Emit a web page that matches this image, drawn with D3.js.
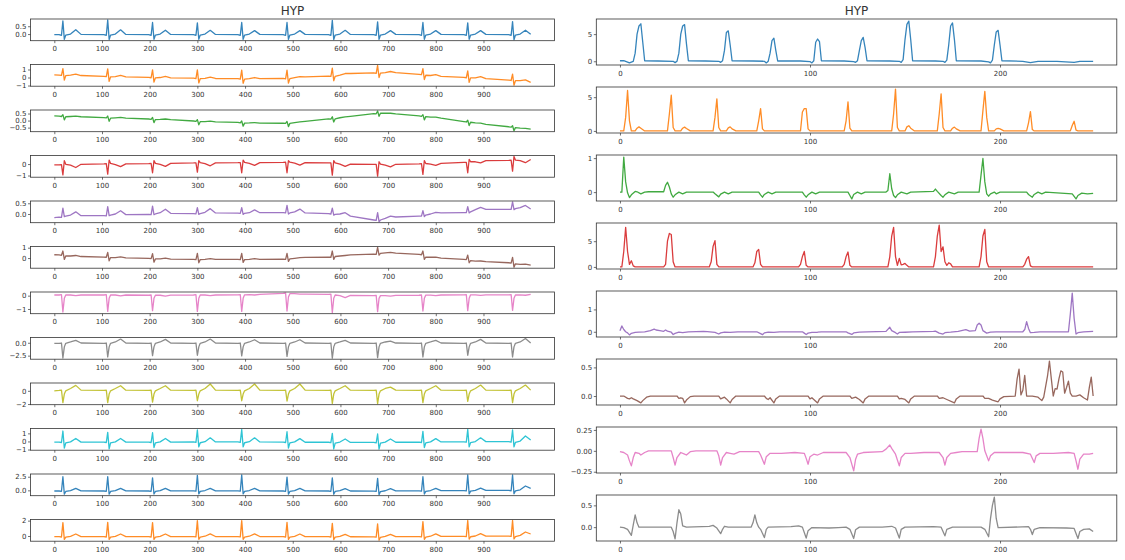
<!DOCTYPE html>
<html><head><meta charset="utf-8">
<script src="https://cdn.jsdelivr.net/npm/d3@7"></script>
<style>body{margin:0;background:#fff}svg{display:block}</style></head><body>
<svg id="c" width="1125" height="560"></svg>
<script>
// ---------------- DATA ----------------
const titleText = "HYP";
const colors = ["#1f77b4","#ff7f0e","#2ca02c","#d62728","#9467bd","#8c564b","#e377c2","#7f7f7f","#bcbd22","#17becf","#1f77b4","#ff7f0e"];

// left column: sample index of key points (shared by all 12 leads)
const leftX = [0,
10,15,18,21,24,34,45,56,
104,109,112,115,118,128,139,150,
198,203,206,209,212,222,233,244,
292,297,300,303,306,316,327,338,
385,390,393,396,399,409,420,431,
480,485,488,491,494,504,515,526,
575,580,583,586,589,599,610,621,
670,675,678,681,684,694,705,716,
765,770,773,776,779,789,800,811,
859,864,867,870,873,883,894,905,
953,958,961,964,967,977,988,999];
const leftXTicks = [0,100,200,300,400,500,600,700,800,900];

const lead01 = [-.04,
-.03,-.08,.84,-.34,-.06,0,.28,-.02,
-.03,-.08,.9,-.35,-.06,0,.27,-.02,
-.03,-.08,.74,-.33,-.06,0,.25,-.02,
-.03,-.08,.72,-.33,-.06,0,.24,-.02,
-.03,-.08,.74,-.34,-.06,0,.22,-.02,
-.03,-.08,.74,-.34,-.06,0,.22,-.02,
-.03,-.08,.88,-.35,-.06,0,.24,-.02,
-.03,-.08,.78,-.34,-.06,0,.22,-.02,
-.03,-.08,.74,-.33,-.06,0,.22,-.02,
-.03,-.08,.72,-.33,-.06,0,.22,-.02,
-.03,-.08,.8,-.36,-.06,0,.25,-.01];
const lead02 = [.33,
.3,.26,1.1,-.32,.24,.3,.42,.25,
.14,.1,1.08,-.48,.08,.12,.26,.08,
.02,-.03,.96,-.58,-.05,0,.13,-.04,
-.08,-.13,.96,-.68,-.15,-.1,.05,-.12,
-.14,-.19,.92,-.72,-.2,-.15,0,-.14,
-.12,-.16,.92,-.7,-.14,-.02,.12,.08,
.18,.14,1.17,-.4,.15,.3,.5,.5,
.58,.52,1.5,0,.55,.62,.75,.6,
.4,.35,1.1,-.25,.28,.25,.35,.15,
.02,-.03,.83,-.6,-.05,-.05,.1,-.15,
-.32,-.37,.42,-.96,-.4,-.4,-.3,-.6];
const lead03 = [.33,
.31,.29,.42,.05,.27,.29,.32,.27,
.21,.19,.32,-.05,.17,.19,.22,.17,
.11,.09,.22,-.15,.07,.08,.11,.06,
-.03,-.06,.07,-.3,-.08,-.07,-.04,-.09,
-.13,-.16,-.03,-.4,-.18,-.17,-.14,-.18,
-.19,-.2,-.06,-.43,-.2,-.15,-.1,-.05,
.12,.1,.27,-.1,.12,.2,.26,.3,
.5,.48,.68,.3,.52,.52,.52,.47,
.33,.3,.42,.05,.28,.25,.24,.17,
-.07,-.1,.02,-.35,-.12,-.17,-.18,-.27,
-.44,-.47,-.37,-.72,-.5,-.53,-.55,-.6];
const lead04 = [-.08,
-.07,-.05,-.94,.3,-.02,-.1,-.3,-.02,
.02,.03,-.88,.35,.05,-.05,-.22,.02,
.04,.05,-.76,.3,.06,-.03,-.2,.06,
.1,.11,-.7,.3,.12,.04,-.15,.1,
.12,.13,-.76,.35,.14,.06,-.12,.12,
.15,.16,-.76,.3,.16,.08,-.1,.12,
.1,.1,-.97,.3,.1,0,-.2,0,
-.03,-.02,-1.06,.2,0,-.1,-.25,-.02,
.02,.03,-.9,.3,.05,0,-.12,.06,
.15,.15,-.76,.4,.2,.2,.1,.3,
.32,.33,-.62,.66,.35,.3,.12,.4];
const lead05 = [-.17,
-.15,-.16,.27,-.12,-.1,-.05,.1,-.08,
-.08,-.09,.34,-.08,-.05,0,.15,-.03,
-.02,-.03,.37,-.03,0,.06,.22,.03,
.02,.01,.3,-.02,.02,.08,.25,.05,
.04,.03,.3,-.02,.03,.06,.19,.06,
.06,.05,.4,0,.05,.1,.23,.05,
.02,0,.27,-.05,-.02,0,.06,-.1,
-.28,-.3,.06,-.36,-.28,-.2,-.1,-.14,
-.1,-.1,.16,-.12,-.05,0,.08,.05,
.06,.06,.34,.05,.1,.2,.31,.22,
.22,.22,.56,.2,.25,.3,.4,.23];
const lead06 = [.32,
.3,.27,.68,-.13,.2,.2,.25,.15,
.1,.08,.55,-.26,.05,.05,.12,.02,
-.03,-.05,.42,-.39,-.08,-.08,0,-.1,
-.13,-.15,.45,-.45,-.15,-.12,-.05,-.12,
-.13,-.15,.45,-.42,-.15,-.12,-.06,-.12,
-.1,-.12,.45,-.32,-.08,-.02,.05,.06,
.1,.08,.68,-.13,.15,.2,.25,.3,
.39,.36,1.02,.29,.45,.5,.55,.48,
.35,.32,.68,-.13,.1,.08,.1,0,
-.13,-.15,.29,-.45,-.25,-.3,-.28,-.35,
-.45,-.48,.06,-.88,-.55,-.6,-.58,-.68];
const lead07 = [.05,
.05,.07,-1.23,-.2,.05,.05,0,.05,
.05,.07,-1.18,-.2,.05,.05,-.02,.05,
.03,.05,-1.13,-.2,.03,.03,-.03,.04,
.05,.07,-1.18,-.2,.05,.05,0,.05,
.06,.08,-1.18,-.2,.06,.08,.05,.1,
.17,.2,-1.15,-.1,.15,.15,.12,.12,
.1,.12,-1.28,-.2,.05,0,-.15,.02,
0,.02,-1.2,-.2,0,0,-.03,.02,
.03,.05,-1.15,-.2,.04,.04,0,.05,
.06,.08,-1.13,-.2,.06,.06,.02,.06,
.06,.08,-1.1,-.2,.05,.06,.03,.1];
const lead08 = [-.12,
-.12,-.05,-2.96,-.8,-.1,.15,.46,-.05,
-.12,-.05,-2.76,-.8,-.1,.15,.72,-.05,
-.12,-.05,-2.5,-.8,-.1,.15,.66,-.05,
-.12,-.05,-2.43,-.8,-.1,.15,.72,-.05,
-.12,-.05,-2.56,-.8,-.1,.15,.59,-.05,
-.12,-.05,-2.63,-.8,-.1,.15,.59,-.05,
-.12,-.05,-3.0,-.8,-.1,.15,.46,-.05,
-.12,-.05,-2.9,-.8,-.1,.15,.33,-.05,
-.12,-.05,-2.76,-.8,-.1,.15,.46,-.05,
-.12,-.05,-2.43,-.8,-.1,.15,.66,-.05,
-.12,-.05,-2.76,-.8,-.1,.15,.83,-.05];
const lead09 = [0,
.05,.1,-1.8,-.5,0,.35,.82,.1,
.05,.1,-1.8,-.5,0,.35,.77,.1,
.05,.1,-1.7,-.5,0,.35,.77,.1,
.05,.1,-1.5,-.5,0,.35,1.03,.1,
.05,.1,-1.5,-.5,0,.35,1.03,.1,
.05,.1,-1.54,-.5,0,.35,1.03,.1,
.05,.1,-1.9,-.5,0,.35,.77,.1,
.05,.1,-1.95,-.5,0,.35,.56,.1,
.05,.1,-1.8,-.5,0,.35,.77,.1,
.05,.1,-1.6,-.5,0,.35,.87,.1,
.05,.1,-1.8,-.5,0,.35,.87,.1];
const lead10 = [-.08,
-.08,-.13,1.29,-.83,-.18,-.05,.37,-.08,
-.08,-.13,1.12,-.92,-.18,-.05,.37,-.08,
-.08,-.13,1.08,-.75,-.18,-.05,.37,-.08,
-.06,-.11,1.42,-.67,-.16,-.03,.45,-.06,
-.06,-.11,1.48,-.67,-.16,-.03,.45,-.06,
-.08,-.13,1.2,-.83,-.18,-.05,.35,-.1,
-.1,-.15,1.0,-.92,-.2,-.07,.3,-.12,
-.12,-.17,.92,-.96,-.22,-.09,.3,-.1,
-.08,-.13,1.25,-.75,-.18,-.05,.35,-.06,
-.04,-.09,1.48,-.67,-.14,-.01,.45,-.02,
-.02,-.07,1.42,-.67,-.12,.05,.67,.17];
const lead11 = [-.12,
-.12,-.17,2.5,-.7,-.2,-.05,.37,-.1,
-.12,-.17,2.5,-.7,-.2,-.05,.37,-.1,
-.12,-.17,2.3,-.68,-.2,-.05,.37,-.1,
-.1,-.15,2.74,-.65,-.18,-.03,.37,-.08,
-.1,-.15,2.82,-.65,-.18,-.03,.37,-.08,
-.12,-.17,2.44,-.7,-.2,-.05,.35,-.1,
-.12,-.17,2.3,-.72,-.2,-.05,.3,-.12,
-.14,-.19,2.2,-.8,-.22,-.07,.3,-.1,
-.1,-.15,2.5,-.68,-.18,-.03,.37,-.06,
-.06,-.11,2.82,-.65,-.14,0,.4,-.02,
-.02,-.07,2.82,-.62,-.1,.1,.8,.37];
const lead12 = [-.09,
-.09,-.13,1.74,-.45,-.15,-.04,.26,-.08,
-.09,-.13,1.78,-.45,-.15,-.04,.26,-.08,
-.09,-.13,1.74,-.45,-.15,-.04,.26,-.08,
-.08,-.12,2.0,-.43,-.14,-.03,.28,-.07,
-.08,-.12,2.0,-.43,-.14,-.03,.28,-.07,
-.09,-.13,1.78,-.45,-.15,-.04,.26,-.08,
-.09,-.13,1.65,-.48,-.15,-.04,.22,-.1,
-.11,-.15,1.57,-.55,-.17,-.06,.22,-.08,
-.08,-.12,1.87,-.43,-.14,-.03,.28,-.05,
-.04,-.08,2.02,-.4,-.1,0,.3,-.02,
-.02,-.06,2.02,-.38,-.08,.08,.52,.26];
const leftLeads = [lead01,lead02,lead03,lead04,lead05,lead06,lead07,lead08,lead09,lead10,lead11,lead12];
const leftYTicks = [[0,.5],[-1,0,1],[-.5,0,.5],[-1,0],[0,.5],[0,1],[-1,0],[-2.5,0],[-2,0],[-1,0,1],[0,2.5],[0,2]];
const leftYLabels = [["0.0","0.5"],["−1","0","1"],["−0.5","0.0","0.5"],["−1","0"],["0.0","0.5"],["0","1"],["−1","0"],["−2.5","0.0"],["−2","0"],["−1","0","1"],["0.0","2.5"],["0","2"]];

// right column: [sample, value] key points of 8 features (250 samples)
const rightXTicks = [0,100,200];
const feat1 = [[0,.1],[2,.1],[4,-.15],[5,-.3],[7,0],[8,1.5],[9,5],[10,6.5],[11,6.9],[12,3.5],[13,.1],[20,.05],[28,0],
[29,-.25],[30,0],[31,1.5],[32,5],[33,6.5],[34,6.75],[35,3.2],[36,.1],[45,.05],[52,0],
[53,-.2],[54,.1],[55,2],[56,5.3],[57,5.6],[58,3],[59,.1],[70,.05],[76,0],
[77,-.3],[78,0],[79,1.5],[80,3.8],[81,4.25],[82,2],[83,.05],[95,.05],[100,-.05],
[101,-.3],[102,.1],[103,3.5],[104,4.1],[105,3.6],[106,.1],[118,.05],[123,-.05],
[124,-.2],[125,.1],[126,2],[127,3.8],[128,4.4],[129,2.5],[130,.1],[142,.05],[147,0],
[148,-.2],[149,.3],[150,4],[151,6.8],[152,7.4],[153,4],[154,.1],[166,.05],[170,0],
[171,-.2],[172,.2],[173,3],[174,6.5],[175,7.06],[176,4],[177,.1],[190,.05],[194,-.1],
[195,-.3],[196,.2],[197,3],[198,5.4],[199,5.7],[200,3],[201,.1],[212,0],[216,-.25],[220,0],[230,0],[239,-.2],[242,0],[249,0]];
const feat2 = [[0,0],[2,0],[3,2],[4,6],[5,1.5],[6,0],[8,0],[9,.4],[10,.6],[11,.4],[13,0],
[25,0],[26,2.5],[27,5.3],[28,.5],[29,0],[32,0],[33,.4],[34,.56],[35,.35],[37,0],
[49,0],[50,2],[51,4.75],[52,.5],[53,0],[56,0],[57,.45],[58,.6],[59,.3],[61,0],
[72,0],[73,1.5],[74,3.3],[75,.3],[76,0],
[95,0],[96,2.8],[97,3.3],[98,3.3],[99,.3],[100,0],
[118,0],[119,1.5],[120,4.3],[121,.4],[122,0],
[143,0],[144,2.5],[145,6.2],[146,.5],[147,0],[150,0],[151,.6],[152,.77],[153,.4],[155,0],
[167,0],[168,2.5],[169,5.5],[170,.5],[171,0],[174,0],[175,.4],[176,.56],[177,.3],[179,0],
[190,0],[191,3],[192,5.87],[193,2],[194,0],[197,0],[198,.3],[199,.36],[200,.3],[202,0],
[214,0],[215,1.2],[216,2.86],[217,.2],[218,0],
[237,0],[238,.8],[239,1.43],[240,.1],[241,0],[249,0]];
const feat3 = [[0,0],[1,0],[2,1.03],[3,.3],[4,-.02],[5,-.16],[6,-.08],[8,.02],[9,.01],[11,-.05],[13,0],[15,.01],[23,.01],[24,.2],[25,.29],[26,.15],[27,-.05],[28,-.15],[29,-.08],[31,0],[33,-.05],[35,0],[49,0],[50,-.05],[52,-.14],[53,-.06],[55,0],[57,-.05],[59,0],
[73,0],[74,-.08],[75,-.15],[76,-.07],[78,0],[80,-.05],[82,0],
[96,0],[97,-.08],[98,-.15],[99,-.08],[101,0],[103,-.05],[105,0],
[120,0],[121,-.1],[122,-.2],[123,-.07],[125,0],[127,-.05],[129,0],
[140,0],[141,.05],[142,.54],[143,.1],[144,-.1],[145,-.16],[146,-.08],[148,0],[151,-.05],[153,0],
[165,.02],[166,.09],[167,.02],[169,-.1],[170,-.15],[171,-.08],[173,0],[176,-.05],[178,0],
[189,0],[190,.5],[191,.99],[192,.3],[193,-.05],[194,-.12],[195,-.05],[197,0],[198,-.05],[200,0],[214,0],[215,-.07],[217,-.15],[218,-.07],[220,0],[222,-.05],[224,0],[238,-.05],[240,-.2],[241,-.1],[243,-.03],[246,-.05],[249,-.04]];
const feat4 = [[0,0],[1,0],[2,3],[3,7.7],[4,3],[5,.5],[6,1.2],[7,.2],[8,0],
[23,0],[24,.5],[25,5],[26,6.5],[27,6.3],[28,1],[29,0],
[47,0],[48,1],[49,4],[50,5.1],[51,.5],[52,0],
[70,0],[71,.8],[72,3],[73,3.4],[74,.5],[75,0],
[94,0],[95,.5],[96,2],[97,3],[98,.3],[99,0],
[117,0],[118,.5],[119,2],[120,2.9],[121,.3],[122,0],
[141,0],[142,2],[143,6],[144,7.7],[145,2],[146,.3],[147,1.67],[148,.4],[149,.5],[150,.67],[151,.3],[152,0],
[165,0],[166,2],[167,6],[168,8.13],[169,3],[170,3.9],[171,1],[172,.3],[173,.8],[174,.6],[175,0],
[189,0],[190,2],[191,6],[192,7.3],[193,1],[194,0],
[212,0],[213,.5],[214,1.5],[215,2],[216,.2],[217,0],[249,0]];
const feat5 = [[0,.05],[1,.26],[2,.1],[3,0],[4,-.05],[5,-.14],[6,-.07],[8,-.03],[10,-.02],[13,0],[16,.05],[18,.12],[19,.08],[21,.05],[23,.02],[24,.08],[25,.03],[27,-.02],[28,-.12],[29,-.07],[31,-.02],[33,-.04],[36,0],[40,.01],[44,.02],[46,.01],[50,-.03],[52,-.1],[53,-.05],[55,-.02],[58,-.03],[62,0],[72,0],[74,-.08],[75,-.13],[76,-.05],[78,-.02],[81,-.03],[84,0],[96,0],[97,-.06],[98,-.12],[99,-.06],[101,-.03],[104,-.02],[106,0],[119,0],[120,-.05],[122,-.12],[123,-.05],[126,-.02],[130,0],[140,.02],[142,.2],[143,.05],[145,-.04],[146,-.1],[147,-.03],[150,-.02],[154,0],[165,.02],[166,.03],[168,-.06],[170,-.1],[171,-.04],[174,-.02],[178,.02],[182,.1],[184,.03],[187,.05],[188,.3],[189,.38],[190,.3],[191,.05],[193,-.06],[195,-.02],[198,0],[212,0],[213,.1],[214,.45],[215,.15],[216,-.04],[218,-.03],[221,0],[236,0],[237,.8],[238,1.73],[239,.6],[240,-.1],[241,-.04],[244,0],[249,.02]];
const feat6 = [[0,0],[2,0],[4,-.04],[5,-.05],[6,-.03],[7,-.05],[9,-.08],[11,-.12],[12,-.08],[14,-.02],[16,0],[30,0],[31,-.04],[32,-.03],[33,-.04],[34,-.12],[35,-.07],[37,-.01],[39,0],
[52,0],[53,-.05],[55,-.02],[56,-.05],[58,-.12],[59,-.06],[61,0],
[76,0],[77,-.04],[78,-.06],[79,-.03],[81,-.12],[82,-.05],[84,0],
[99,0],[100,-.05],[101,-.03],[102,-.06],[104,-.12],[105,-.05],[107,0],
[121,0],[122,-.04],[124,-.02],[126,-.06],[128,-.12],[129,-.05],[131,0],
[146,0],[147,-.05],[148,-.04],[150,-.06],[152,-.12],[153,-.05],[155,0],
[167,0],[168,-.04],[170,-.03],[172,-.06],[176,-.12],[177,-.05],[179,0],
[191,0],[192,-.04],[194,-.04],[196,-.07],[199,-.1],[200,-.05],[202,-.01],[208,0],[209,.3],[210,.47],[211,.02],[212,.1],[213,.36],[214,0],[217,0],[220,-.02],[222,-.08],[223,-.02],[225,.35],[226,.61],[227,.3],[228,0],[229,.13],[230,.12],[231,.3],[232,.44],[233,.42],[234,.05],[235,.15],[236,.26],[237,.05],[238,0],[240,0],[242,.02],[244,-.03],[246,-.07],[247,.15],[248,.33],[249,0]];
const feat7 = [[0,-.01],[2,-.02],[4,-.05],[5,-.12],[6,-.18],[7,-.08],[8,-.02],[10,-.03],[11,-.05],[13,-.02],[15,0],[27,0],[28,-.08],[29,-.17],[30,-.08],[32,-.02],[34,-.04],[35,-.05],[37,-.01],[40,0],[51,0],[52,-.06],[53,-.17],[54,-.08],[56,-.02],[58,-.03],[60,-.04],[63,-.01],[73,-.01],[74,-.05],[76,-.16],[77,-.07],[79,-.03],[85,-.03],[92,-.02],[97,-.03],[98,-.09],[99,-.16],[100,-.07],[102,-.04],[104,-.05],[107,-.02],[119,-.02],[121,-.08],[123,-.24],[124,-.1],[125,-.04],[128,-.02],[138,-.01],[140,.02],[142,.07],[143,.03],[145,-.04],[147,-.18],[148,-.08],[150,-.03],[153,-.03],[160,-.02],[168,-.02],[170,-.08],[171,-.17],[172,-.08],[174,-.03],[177,-.02],[180,-.01],[188,-.01],[189,.15],[190,.26],[191,.15],[192,0],[193,-.06],[194,-.12],[195,-.06],[197,-.02],[205,-.02],[212,-.02],[216,-.04],[218,-.14],[219,-.06],[221,-.03],[228,-.03],[236,-.02],[239,-.03],[240,-.12],[241,-.22],[242,-.1],[244,-.04],[247,-.04],[249,-.03]];
const feat8 = [[0,0],[2,-.01],[4,-.05],[6,-.19],[7,.05],[8,.28],[9,.1],[10,0],[14,0],[20,0],[27,0],[28,-.1],[29,-.27],[30,.1],[31,.4],[32,.3],[33,.03],[35,0],[47,.02],[49,.04],[51,-.02],[53,-.15],[54,-.05],[55,.02],[57,0],[69,0],[70,.1],[71,.28],[72,.1],[73,0],[74,-.05],[76,-.24],[77,-.05],[78,0],[90,.01],[94,.03],[96,0],[98,-.25],[99,-.08],[101,-.01],[110,-.02],[115,-.01],[119,0],[121,-.05],[123,-.26],[124,-.06],[126,0],[138,0],[143,.02],[145,-.02],[147,-.25],[148,-.05],[150,0],[165,.01],[169,0],[171,-.2],[172,-.05],[175,0],[190,0],[192,-.05],[194,-.22],[195,.2],[196,.5],[197,.69],[198,.2],[199,-.01],[215,.01],[216,-.05],[217,-.17],[218,-.05],[221,-.01],[235,-.02],[239,-.03],[241,-.26],[242,-.1],[244,-.05],[247,-.04],[249,-.1]];
const rightFeats = [feat1,feat2,feat3,feat4,feat5,feat6,feat7,feat8];
const rightYTicks = [[0,5],[0,5],[0,1],[0,5],[0,1],[0,.5],[-.25,0,.25],[0,.5]];
const rightYLabels = [["0","5"],["0","5"],["0","1"],["0","5"],["0","1"],["0.0","0.5"],["−0.25","0.00","0.25"],["0.0","0.5"]];

// ---------------- DRAW ----------------
const svg = d3.select("#c");
const FONT = "DejaVu Sans";
const INK = "#333";

function drawPanel(pts, color, box, xDom, xTicks, yTicks, yLabels){
  const g = svg.append("g");
  const x = d3.scaleLinear().domain(xDom).range([box.l, box.r]);
  const ext = d3.extent(pts, d => d[1]);
  const pad = (ext[1]-ext[0])*0.05;
  const y = d3.scaleLinear().domain([ext[0]-pad, ext[1]+pad]).range([box.b, box.t]);
  g.append("path").datum(pts)
    .attr("fill","none").attr("stroke",color).attr("stroke-width",1.3)
    .attr("stroke-linejoin","round").attr("stroke-opacity",0.9)
    .attr("d", d3.line().x(d=>x(d[0])).y(d=>y(d[1])));
  const xa = g.append("g").attr("transform",`translate(0,${box.b})`)
    .call(d3.axisBottom(x).tickValues(xTicks).tickFormat(d3.format("d")).tickSize(2.5).tickPadding(3.2));
  const ya = g.append("g").attr("transform",`translate(${box.l},0)`)
    .call(d3.axisLeft(y).tickValues(yTicks).tickFormat((d,i)=>yLabels[i]).tickSize(2.5).tickPadding(1.6));
  [xa,ya].forEach(a=>{
    a.select(".domain").remove();
    a.selectAll("line").attr("stroke",INK).attr("stroke-width",0.7);
    a.selectAll("text").attr("fill",INK).attr("font-family",FONT).attr("font-size",7);
  });
  g.append("rect").attr("x",box.l).attr("y",box.t).attr("width",box.r-box.l).attr("height",box.b-box.t)
    .attr("fill","none").attr("stroke",INK).attr("stroke-width",0.8);
}

// left column
const L = {l:30.5, r:554.5};
leftLeads.forEach((vals,i)=>{
  const t = 19 + 45.5*i;
  const pts = leftX.map((xv,j)=>[xv, vals[j]]);
  drawPanel(pts, colors[i], {l:L.l, r:L.r, t:t, b:t+21.7}, [-49.95,1048.95], leftXTicks, leftYTicks[i], leftYLabels[i]);
});
// right column
const R = {l:596.3, r:1116.8};
rightFeats.forEach((pts,i)=>{
  const t = 19 + 68*i;
  drawPanel(pts, colors[i], {l:R.l, r:R.r, t:t, b:t+46}, [-12.45,261.45], rightXTicks, rightYTicks[i], rightYLabels[i]);
});
// titles
[(L.l+L.r)/2, (R.l+R.r)/2].forEach(cx=>{
  svg.append("text").attr("x",cx).attr("y",15).attr("text-anchor","middle")
    .attr("font-family",FONT).attr("font-size",12).attr("fill",INK).text(titleText);
});
</script>
</body></html>
